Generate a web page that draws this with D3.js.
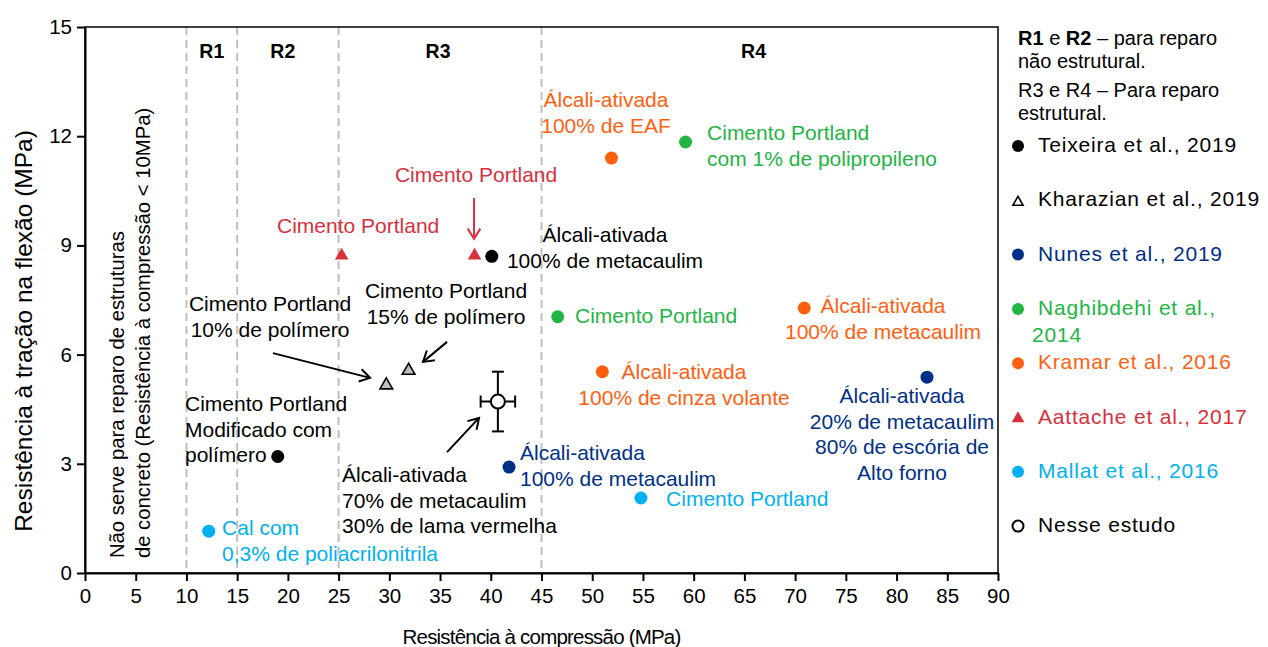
<!DOCTYPE html>
<html>
<head>
<meta charset="utf-8">
<script src="https://cdn.jsdelivr.net/npm/d3@7"></script>
<style>
  body { margin: 0; background: #fff; }
  text { font-family: "Liberation Sans", Arial, sans-serif; }
</style>
</head>
<body>
<script>
// values (MPa)
const seriesNames = ["Teixeira et al., 2019", "Kharazian et al., 2019", "Nunes et al., 2019",
  "Naghibdehi et al.,|2014", "Kramar et al., 2016", "Aattache et al., 2017", "Mallat et al., 2016", "Nesse estudo"];

const teixeiraX = [19.0, 40.1];
const teixeiraY = [3.2, 8.7];
const kharazianX = [29.7, 31.9];
const kharazianY = [5.16, 5.56];
const nunesX = [41.8, 83.0];
const nunesY = [2.91, 5.38];
const naghibdehiX = [59.2, 46.6];
const naghibdehiY = [11.84, 7.04];
const kramarX = [51.9, 51.0, 70.9];
const kramarY = [11.4, 5.53, 7.28];
const aattacheX = [25.3, 38.4];
const aattacheY = [8.72, 8.72];
const mallatX = [12.2, 54.8];
const mallatY = [1.15, 2.06];
const estudoX = [40.7];
const estudoY = [4.71];
const estudoErrX = [1.7];
const estudoErrY = [0.82];

const xTicks = d3.range(0, 91, 5);
const yTicks = [0, 3, 6, 9, 12, 15];
const regionLimits = [10, 15, 25, 45];
const regionNames = ["R1", "R2", "R3", "R4"];

const colors = {
  black: "#000000", gray: "#bfbfbf", navy: "#002f87", green: "#22b543",
  orange: "#ff6010", red: "#d8303c", cyan: "#00b0f0"
};

const width = 1268, height = 647;
const x = d3.scaleLinear().domain([0, 90]).range([85, 998]);
const y = d3.scaleLinear().domain([0, 15]).range([573, 27]);

const svg = d3.select("body").append("svg")
  .attr("width", width).attr("height", height);

// dashed region limits
svg.selectAll("line.region")
  .data(regionLimits)
  .join("line")
  .attr("class", "region")
  .attr("x1", d => x(d)).attr("x2", d => x(d))
  .attr("y1", y(15)).attr("y2", y(0))
  .attr("stroke", "#bfbfbf").attr("stroke-width", 2)
  .attr("stroke-dasharray", "8,5");

// frame
svg.append("rect")
  .attr("x", x(0)).attr("y", y(15))
  .attr("width", x(90) - x(0)).attr("height", y(0) - y(15))
  .attr("fill", "none").attr("stroke", "#000").attr("stroke-width", 1.5);

// axes
const xAxis = svg.append("g")
  .attr("transform", `translate(0,${y(0)})`)
  .call(d3.axisBottom(x).tickValues(xTicks).tickSize(8).tickSizeOuter(0));
const yAxis = svg.append("g")
  .attr("transform", `translate(${x(0)},0)`)
  .call(d3.axisLeft(y).tickValues(yTicks).tickSize(8).tickSizeOuter(0));

[xAxis, yAxis].forEach(g => {
  g.select(".domain").attr("stroke", "#000").attr("stroke-width", 2);
  g.selectAll(".tick line").attr("stroke", "#000").attr("stroke-width", 2);
  g.selectAll(".tick text").attr("fill", "#000")
    .style("font-family", '"Liberation Sans", Arial, sans-serif').style("font-size", "20.5px");
});
xAxis.selectAll(".tick text").attr("y", 15).attr("dy", "0.71em");
yAxis.selectAll(".tick text").attr("x", -13);

// axis titles
svg.append("text")
  .attr("x", x(45)).attr("y", 644)
  .attr("text-anchor", "middle").style("font-size", "20.5px").style("letter-spacing", "-0.8px")
  .text("Resistência à compressão (MPa)");
svg.append("text")
  .attr("transform", "translate(32,331) rotate(-90)")
  .attr("text-anchor", "middle").style("font-size", "24.5px")
  .text("Resistência à tração na flexão (MPa)");

// note inside the first band
const note = svg.append("text")
  .attr("transform", `translate(${x(3.84)},${y(0.41)}) rotate(-90)`)
  .style("font-size", "20.3px");
note.append("tspan").attr("x", 0).attr("y", 0).text("Não serve para reparo de estruturas");
note.append("tspan").attr("x", 0).attr("y", 26).text("de concreto (Resistência à compressão <  10MPa)");

// region names
const regionLabelX = [12.5, 19.5, 34.8, 65.9];
svg.selectAll("text.rname")
  .data(regionNames)
  .join("text")
  .attr("class", "rname")
  .attr("x", (d, i) => x(regionLabelX[i])).attr("y", y(14.15))
  .attr("text-anchor", "middle")
  .style("font-size", "19.5px").style("font-weight", "bold")
  .text(d => d);

// arrows
const arrows = [
  { x1: 38.35, y1: 10.30, x2: 38.35, y2: 9.18, c: colors.red },
  { x1: 35.69, y1: 6.35, x2: 33.32, y2: 5.80, c: colors.black },
  { x1: 18.53, y1: 6.04, x2: 28.10, y2: 5.36, c: colors.black },
  { x1: 35.69, y1: 3.32, x2: 38.84, y2: 4.26, c: colors.black }
];
arrows.forEach(a => {
  const g = svg.append("g");
  g.append("line")
    .attr("x1", x(a.x1)).attr("y1", y(a.y1)).attr("x2", x(a.x2)).attr("y2", y(a.y2))
    .attr("stroke", a.c).attr("stroke-width", 2);
  // open arrow head
  const ang = Math.atan2(y(a.y2) - y(a.y1), x(a.x2) - x(a.x1));
  const L = 12, w = 0.55;
  const tx = x(a.x2), ty = y(a.y2);
  g.append("path")
    .attr("d", `M${tx - L * Math.cos(ang - w)},${ty - L * Math.sin(ang - w)} L${tx},${ty} L${tx - L * Math.cos(ang + w)},${ty - L * Math.sin(ang + w)}`)
    .attr("fill", "none").attr("stroke", a.c).attr("stroke-width", 2);
});

// annotation texts
const labels = [
  { x: 51.36, y: 12.80, a: "middle", c: colors.orange, t: ["Álcali-ativada", "100% de EAF"] },
  { x: 61.32, y: 11.90, a: "start", c: colors.green, t: ["Cimento Portland", "com 1% de polipropileno"] },
  { x: 38.55, y: 10.74, a: "middle", c: colors.red, t: ["Cimento Portland"] },
  { x: 18.93, y: 9.35, a: "start", c: colors.red, t: ["Cimento Portland"] },
  { x: 51.26, y: 9.09, a: "middle", c: colors.black, t: ["Álcali-ativada", "100% de metacaulim"] },
  { x: 35.59, y: 7.555, a: "middle", c: colors.black, t: ["Cimento Portland", "15% de polímero"] },
  { x: 18.24, y: 7.20, a: "middle", c: colors.black, t: ["Cimento Portland", "10% de polímero"] },
  { x: 9.86, y: 4.45, a: "start", c: colors.black, t: ["Cimento Portland", "Modificado com", "polímero"] },
  { x: 13.51, y: 1.04, a: "start", c: colors.cyan, t: ["Cal com", "0,3% de poliacrilonitrila"] },
  { x: 25.34, y: 2.50, a: "start", c: colors.black, t: ["Álcali-ativada", "70% de metacaulim", "30% de lama vermelha"] },
  { x: 42.88, y: 3.10, a: "start", c: colors.navy, t: ["Álcali-ativada", "100% de metacaulim"] },
  { x: 57.28, y: 1.84, a: "start", c: colors.cyan, t: ["Cimento Portland"] },
  { x: 48.30, y: 6.87, a: "start", c: colors.green, t: ["Cimento Portland"] },
  { x: 59.05, y: 5.33, a: "middle", c: colors.orange, t: ["Álcali-ativada", "100% de cinza volante"] },
  { x: 78.67, y: 7.14, a: "middle", c: colors.orange, t: ["Álcali-ativada", "100% de metacaulim"] },
  { x: 80.54, y: 4.67, a: "middle", c: colors.navy, t: ["Álcali-ativada", "20% de metacaulim", "80% de escória de", "Alto forno"] }
];
labels.forEach(l => {
  const t = svg.append("text")
    .attr("text-anchor", l.a).attr("fill", l.c)
    .style("font-size", "21px");
  l.t.forEach((line, i) => {
    t.append("tspan").attr("x", x(l.x)).attr("y", y(l.y) + i * 25.7).text(line);
  });
});

// points
const dotSeries = [
  { xs: teixeiraX, ys: teixeiraY, c: colors.black },
  { xs: nunesX, ys: nunesY, c: colors.navy },
  { xs: naghibdehiX, ys: naghibdehiY, c: colors.green },
  { xs: kramarX, ys: kramarY, c: colors.orange },
  { xs: mallatX, ys: mallatY, c: colors.cyan }
];
dotSeries.forEach(s => {
  svg.append("g").selectAll("circle")
    .data(s.xs.map((v, i) => [v, s.ys[i]]))
    .join("circle")
    .attr("cx", d => x(d[0])).attr("cy", d => y(d[1]))
    .attr("r", 6.5).attr("fill", s.c);
});

const tri = d3.symbol().type(d3.symbolTriangle);
svg.append("g").selectAll("path")
  .data(aattacheX.map((v, i) => [v, aattacheY[i]]))
  .join("path")
  .attr("transform", d => `translate(${x(d[0])},${y(d[1])})`)
  .attr("d", tri.size(80)).attr("fill", colors.red);
svg.append("g").selectAll("path")
  .data(kharazianX.map((v, i) => [v, kharazianY[i]]))
  .join("path")
  .attr("transform", d => `translate(${x(d[0])},${y(d[1])})`)
  .attr("d", tri.size(70)).attr("fill", colors.gray)
  .attr("stroke", "#000").attr("stroke-width", 1.6);

// this study with error bars
estudoX.forEach((v, i) => {
  const g = svg.append("g").attr("stroke", "#000").attr("stroke-width", 2);
  const cx = x(v), cy = y(estudoY[i]);
  const xl = x(v - estudoErrX[i]), xr = x(v + estudoErrX[i]);
  const yt = y(estudoY[i] + estudoErrY[i]), yb = y(estudoY[i] - estudoErrY[i]);
  g.append("line").attr("x1", xl).attr("x2", xr).attr("y1", cy).attr("y2", cy);
  g.append("line").attr("x1", cx).attr("x2", cx).attr("y1", yt).attr("y2", yb);
  g.append("line").attr("x1", xl).attr("x2", xl).attr("y1", cy - 6).attr("y2", cy + 6);
  g.append("line").attr("x1", xr).attr("x2", xr).attr("y1", cy - 6).attr("y2", cy + 6);
  g.append("line").attr("x1", cx - 6).attr("x2", cx + 6).attr("y1", yt).attr("y2", yt);
  g.append("line").attr("x1", cx - 6).attr("x2", cx + 6).attr("y1", yb).attr("y2", yb);
  g.append("circle").attr("cx", cx).attr("cy", cy).attr("r", 7).attr("fill", "#fff");
});

// legend
const legendX = 1018;
const head = svg.append("g").style("font-size", "20px");
const h1 = head.append("text").attr("x", legendX).attr("y", 45);
h1.append("tspan").style("font-weight", "bold").text("R1");
h1.append("tspan").text(" e ");
h1.append("tspan").style("font-weight", "bold").text("R2");
h1.append("tspan").text(" – para reparo");
head.append("text").attr("x", legendX).attr("y", 68).text("não estrutural.");
head.append("text").attr("x", legendX).attr("y", 97).text("R3 e R4 – Para reparo");
head.append("text").attr("x", legendX).attr("y", 120).text("estrutural.");

const legendColors = [colors.black, colors.black, colors.navy, colors.green, colors.orange, colors.red, colors.cyan, colors.black];
const legendShapes = ["dot", "otri", "dot", "dot", "dot", "tri", "dot", "ocircle"];
const leg = svg.append("g").selectAll("g")
  .data(seriesNames)
  .join("g")
  .attr("transform", (d, i) => `translate(${legendX},${152 + i * 54.3})`);
leg.each(function (d, i) {
  const g = d3.select(this);
  const s = legendShapes[i];
  if (s === "dot") g.append("circle").attr("cy", -6).attr("r", 6).attr("fill", legendColors[i]);
  if (s === "ocircle") g.append("circle").attr("cy", -6).attr("r", 5.5).attr("fill", "#fff")
    .attr("stroke", "#000").attr("stroke-width", 2);
  if (s === "tri") g.append("path").attr("transform", "translate(0,-5)")
    .attr("d", d3.symbol().type(d3.symbolTriangle).size(70)()).attr("fill", legendColors[i]);
  if (s === "otri") g.append("path").attr("transform", "translate(0,-4)")
    .attr("d", d3.symbol().type(d3.symbolTriangle).size(45)()).attr("fill", "#fff")
    .attr("stroke", "#000").attr("stroke-width", 1.6);
  const t = g.append("text").attr("x", 20).attr("fill", legendColors[i])
    .style("font-size", "21px").style("letter-spacing", "0.8px");
  d.split("|").forEach((line, k) => {
    t.append("tspan").attr("x", k === 0 ? 20 : 14).attr("y", k * 27).text(line);
  });
});
</script>
</body>
</html>
